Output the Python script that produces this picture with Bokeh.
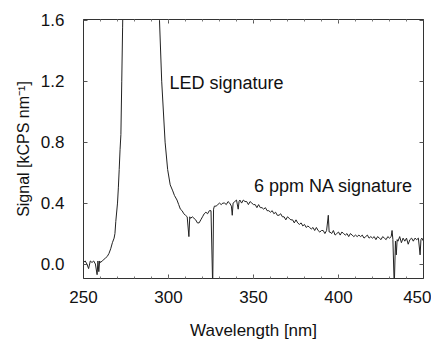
from bokeh.plotting import figure
from bokeh.models import (Range1d, LinearAxis, SingleIntervalTicker, Label,
                          PrintfTickFormatter, CustomJSTickFormatter)
from bokeh.embed import file_html
from bokeh.resources import INLINE

wavelength = [
    250, 251, 252, 253, 254, 255, 256, 257, 258, 258.5, 259, 259.5, 260, 261, 262, 263, 264, 265, 266, 267,
    268, 268.5, 269, 270, 270.5, 271, 271.5, 272, 272.5, 273, 273.5, 275, 280, 285, 290, 294, 294.7, 296, 298, 299.5,
    301, 302.5, 303.5, 305, 306, 307, 308, 309, 310, 311, 312, 312.5, 313, 314, 315, 316, 317, 318, 319, 320,
    321, 322, 323, 324, 325, 326, 326.5, 327, 328, 329, 330, 331, 332, 333, 334, 335, 336, 337, 337.5, 338,
    339, 340, 341, 341.5, 342, 343, 344, 345, 346, 347, 348, 349, 350, 351, 352, 353, 354, 355, 356, 357,
    358, 359, 360, 361, 362, 363, 364, 365, 366, 367, 368, 369, 370, 371, 372, 373, 374, 375, 376, 377,
    378, 379, 380, 381, 382, 383, 384, 385, 386, 387, 388, 389, 390, 391, 392, 393, 394, 394.5, 395, 396,
    397, 398, 399, 400, 401, 402, 403, 404, 405, 406, 407, 408, 409, 410, 411, 412, 413, 414, 415, 416,
    417, 418, 419, 420, 421, 422, 423, 424, 425, 426, 427, 428, 429, 430, 431, 431.5, 432, 432.8, 433.5, 434,
    434.5, 435, 436, 437, 438, 439, 440, 441, 442, 443, 444, 445, 446, 447, 448, 448.5, 449, 450,
]
signal = [
    0.01, 0.02, 0.00, -0.03, 0.02, 0.01, 0.02, 0.00, -0.07, 0.02, -0.05, 0.02, 0.01, 0.02, 0.03, 0.04, 0.05, 0.07, 0.10, 0.14,
    0.17, 0.20, 0.28, 0.40, 0.50, 0.62, 0.75, 0.85, 1.20, 1.55, 1.90, 2.60, 3.00, 3.00, 2.80, 2.00, 1.60, 1.20, 0.80, 0.62,
    0.52, 0.48, 0.45, 0.42, 0.39, 0.36, 0.35, 0.33, 0.32, 0.31, 0.18, 0.31, 0.30, 0.31, 0.30, 0.29, 0.27, 0.27, 0.29, 0.31,
    0.33, 0.34, 0.33, 0.35, 0.35, -0.15, 0.36, 0.38, 0.38, 0.39, 0.40, 0.39, 0.40, 0.40, 0.39, 0.41, 0.40, 0.38, 0.32, 0.40,
    0.41, 0.42, 0.36, 0.41, 0.42, 0.40, 0.42, 0.41, 0.41, 0.39, 0.41, 0.40, 0.39, 0.39, 0.37, 0.39, 0.37, 0.37, 0.36, 0.37,
    0.35, 0.35, 0.34, 0.35, 0.33, 0.34, 0.32, 0.32, 0.33, 0.31, 0.31, 0.29, 0.31, 0.30, 0.29, 0.29, 0.27, 0.29, 0.27, 0.26,
    0.27, 0.25, 0.26, 0.24, 0.25, 0.24, 0.23, 0.24, 0.22, 0.24, 0.22, 0.21, 0.22, 0.22, 0.20, 0.22, 0.32, 0.21, 0.21, 0.20,
    0.22, 0.19, 0.20, 0.21, 0.19, 0.21, 0.20, 0.19, 0.20, 0.18, 0.20, 0.19, 0.18, 0.19, 0.18, 0.19, 0.18, 0.19, 0.17, 0.18,
    0.19, 0.17, 0.18, 0.17, 0.18, 0.16, 0.18, 0.17, 0.16, 0.18, 0.17, 0.16, 0.18, 0.17, 0.18, 0.22, 0.16, -0.15, 0.15, 0.06,
    0.16, 0.15, 0.18, 0.14, 0.17, 0.15, 0.17, 0.13, 0.16, 0.17, 0.15, 0.17, 0.16, 0.17, 0.06, 0.16, 0.17, 0.15,
]

x_ticks_major = 50
y_ticks_major = 0.4
annotations = [("LED signature", 300.6, 1.19), ("6 ppm NA signature", 350.3, 0.51)]

FONT = "Liberation Sans"
FS = "17px"

p = figure(width=431, height=342, output_backend="svg", toolbar_location=None,
           x_range=Range1d(250, 450), y_range=Range1d(-0.095, 1.605),
           min_border_left=83, min_border_right=8, min_border_top=19, min_border_bottom=54)
p.grid.visible = False
p.outline_line_color = "#333333"
p.outline_line_width = 1
p.background_fill_color = "white"
p.border_fill_color = "white"

p.line(wavelength, signal, line_color="#222222", line_width=1)


def style(ax, labels=True):
    ax.axis_line_color = "#333333"
    ax.major_tick_in = 4
    ax.major_tick_out = 0
    ax.minor_tick_in = 2
    ax.minor_tick_out = 0
    ax.major_tick_line_color = "#555555"
    ax.minor_tick_line_color = "#777777"
    ax.major_label_text_font = FONT
    ax.major_label_text_font_size = FS
    ax.major_label_text_color = "#111111"
    ax.axis_label_text_font = FONT
    ax.axis_label_text_font_size = FS
    ax.axis_label_text_font_style = "normal"
    ax.axis_label_text_color = "#111111"
    if not labels:
        ax.formatter = CustomJSTickFormatter(code="return ''")
        ax.major_label_standoff = 0


p.xaxis.ticker = SingleIntervalTicker(interval=x_ticks_major, num_minor_ticks=5)
p.yaxis.ticker = SingleIntervalTicker(interval=y_ticks_major, num_minor_ticks=0)
style(p.xaxis[0])
style(p.yaxis[0])
p.yaxis.formatter = PrintfTickFormatter(format="%.1f")
p.yaxis.minor_tick_in = 0
p.xaxis.axis_label = "Wavelength [nm]"
p.yaxis.axis_label = "Signal [kCPS nm\u207B\u00B9]"
p.yaxis.axis_label_text_font_size = "16px"
p.xaxis.major_label_standoff = 12
p.yaxis.major_label_standoff = 19
p.xaxis.axis_label_standoff = 15
p.yaxis.axis_label_standoff = 6

top = LinearAxis(ticker=SingleIntervalTicker(interval=x_ticks_major, num_minor_ticks=5))
style(top, labels=False)
p.add_layout(top, "above")
right = LinearAxis(ticker=SingleIntervalTicker(interval=y_ticks_major, num_minor_ticks=0))
style(right, labels=False)
right.minor_tick_in = 0
p.add_layout(right, "right")

for txt, xx, yy in annotations:
    p.add_layout(Label(x=xx, y=yy, text=txt, text_font=FONT, text_font_size="18px",
                       text_color="#111111", text_baseline="middle", text_align="left"))

open("out.html", "w").write(file_html(p, INLINE))
